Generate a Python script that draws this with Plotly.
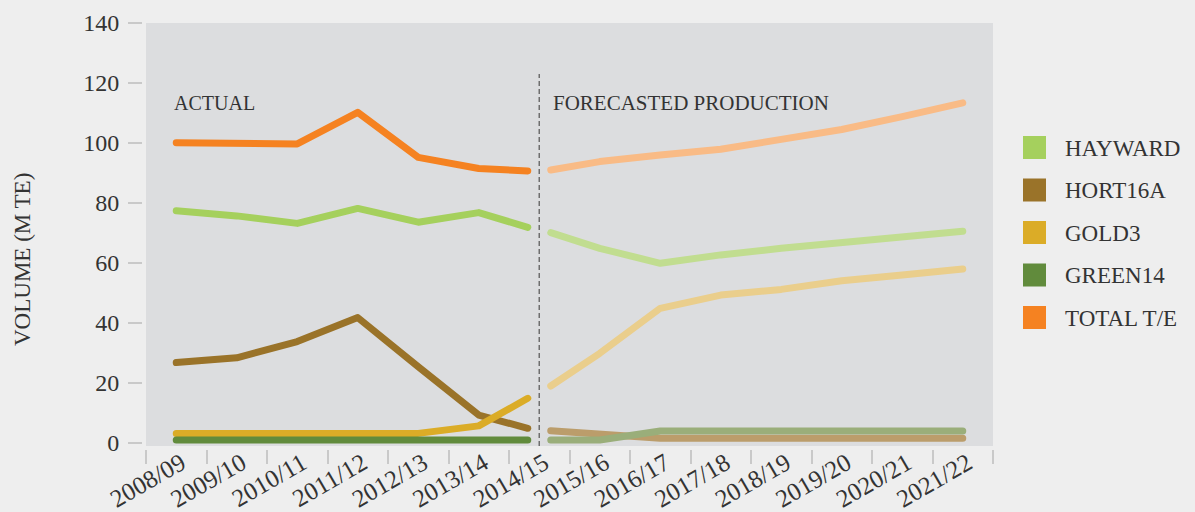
import plotly.graph_objects as go

# ---------------- data ----------------
categories = ["2008/09", "2009/10", "2010/11", "2011/12", "2012/13", "2013/14", "2014/15",
              "2015/16", "2016/17", "2017/18", "2018/19", "2019/20", "2020/21", "2021/22"]

series_names = ["HAYWARD", "HORT16A", "GOLD3", "GREEN14", "TOTAL T/E"]

# actual: 2008/09 .. 2014/15
hayward_actual = [77.4, 75.7, 73.2, 78.2, 73.6, 76.8, 71.9]
hort16a_actual = [26.8, 28.4, 33.8, 41.8, 25.4, 9.3, 4.9]
gold3_actual = [3.2, 3.2, 3.2, 3.2, 3.2, 5.7, 14.9]
green14_actual = [1.0, 1.0, 1.0, 1.0, 1.0, 1.0, 1.0]
total_actual = [100.1, 100.0, 99.7, 110.2, 95.2, 91.5, 90.7]

# forecast: 2014/15 .. 2021/22
hayward_forecast = [70.1, 64.9, 59.9, 62.7, 64.9, 66.8, 68.8, 70.6]
hort16a_forecast = [4.1, 2.9, 1.6, 1.6, 1.6, 1.6, 1.6, 1.6]
gold3_forecast = [19.0, 29.9, 44.9, 49.3, 51.2, 54.1, 56.0, 58.0]
green14_forecast = [1.0, 1.0, 4.0, 4.0, 4.0, 4.0, 4.0, 4.0]
total_forecast = [91.0, 93.8, 96.0, 97.9, 101.2, 104.5, 108.8, 113.4]

y_ticks = [0, 20, 40, 60, 80, 100, 120, 140]

# ---------------- styles ----------------
actual_colors = ["#a5d05d", "#9a7329", "#dbac27", "#618b3c", "#f58221"]
forecast_colors = ["#c1dd90", "#bb9d6b", "#eace8c", "#9aae7a", "#f9bb86"]
LINE_W = 7
GAP = 0.19          # visual split between actual and forecast at 2014/15
SPLIT = 6           # index of 2014/15
FONT = "Liberation Serif"
TXT = "#333333"
TICKC = "#c9c9c9"

W, H = 1195, 512
ML, MR, MT, MB = 142, 202, 23, 63
PW, PH = W - ML - MR, H - MT - MB


def px_x(px):
    return (px - ML) / PW


def px_y(py):
    return (H - MB - py) / PH


actual_sets = [hayward_actual, hort16a_actual, gold3_actual, green14_actual, total_actual]
forecast_sets = [hayward_forecast, hort16a_forecast, gold3_forecast, green14_forecast, total_forecast]

n_act = len(hayward_actual)
x_actual = list(range(n_act - 1)) + [SPLIT - GAP]
x_forecast = [SPLIT + GAP] + list(range(SPLIT + 1, len(categories)))

fig = go.Figure()
for name, ya, yf, ca, cf in zip(series_names, actual_sets, forecast_sets, actual_colors, forecast_colors):
    fig.add_trace(go.Scatter(x=x_actual, y=ya, mode="lines", name=name,
                             line=dict(color=ca, width=LINE_W), showlegend=False,
                             hoverinfo="skip"))
    fig.add_trace(go.Scatter(x=x_forecast, y=yf, mode="lines", name=name + " forecast",
                             line=dict(color=cf, width=LINE_W), showlegend=False,
                             hoverinfo="skip"))

shapes = []
annotations = []

# divider
shapes.append(dict(type="line", xref="x", yref="paper", x0=SPLIT, x1=SPLIT,
                   y0=px_y(446), y1=px_y(74),
                   line=dict(color="#6e6e6e", width=1.5, dash="5px,3px")))

annotations.append(dict(text="ACTUAL", xref="x", yref="paper", x=-0.07, y=px_y(103),
                        xanchor="left", yanchor="middle", showarrow=False,
                        font=dict(family=FONT, size=20, color=TXT)))
annotations.append(dict(text="FORECASTED PRODUCTION", xref="x", yref="paper", x=SPLIT + 0.19,
                        y=px_y(103), xanchor="left", yanchor="middle", showarrow=False,
                        font=dict(family=FONT, size=21, color=TXT)))

# y axis title
annotations.append(dict(text="VOLUME (M TE)", xref="paper", yref="paper", x=px_x(22), y=px_y(260),
                        xanchor="center", yanchor="middle", textangle=-90, showarrow=False,
                        font=dict(family=FONT, size=23, color=TXT)))

# manual legend
for i, (name, c) in enumerate(zip(series_names, actual_colors)):
    cy = 147.5 + i * 42.5
    shapes.append(dict(type="rect", xref="paper", yref="paper",
                       x0=px_x(1023), x1=px_x(1046), y0=px_y(cy + 11.5), y1=px_y(cy - 11.5),
                       fillcolor=c, line=dict(width=0)))
    annotations.append(dict(text=name, xref="paper", yref="paper", x=px_x(1063), y=px_y(cy + 0.5),
                            xanchor="left", yanchor="middle", showarrow=False,
                            font=dict(family=FONT, size=23, color=TXT)))

fig.update_layout(
    width=W, height=H,
    margin=dict(l=ML, r=MR, t=MT, b=MB, pad=0, autoexpand=False),
    paper_bgcolor="#eeeeee",
    plot_bgcolor="#dcdddf",
    showlegend=False,
    shapes=shapes,
    annotations=annotations,
    font=dict(family=FONT, color=TXT),
    xaxis=dict(
        domain=[4 / PW, 1], anchor="free", position=0, automargin=False,
        range=[-0.5, len(categories) - 0.5],
        tickmode="array", tickvals=list(range(len(categories))), ticktext=categories,
        ticks="", tickangle=-30, tickfont=dict(family=FONT, size=25, color=TXT),
        ticklabelstandoff=-6, ticklabelshift=5,
        minor=dict(tickmode="array", tickvals=[i - 0.5 for i in range(len(categories) + 1)],
                   ticks="outside", ticklen=14, tickwidth=2, tickcolor=TICKC, showgrid=False),
        showgrid=False, zeroline=False, showline=False,
    ),
    yaxis=dict(
        domain=[3 / PH, 1], anchor="free", position=0, automargin=False,
        range=[-1, 140], tickmode="array", tickvals=y_ticks,
        ticks="outside", ticklen=14, tickwidth=2, tickcolor=TICKC,
        tickfont=dict(family=FONT, size=24, color=TXT), ticklabelstandoff=4,
        showgrid=False, zeroline=False, showline=False,
    ),
)

post = """
document.body.style.margin='0';
document.body.style.padding='0';
document.body.style.background='#eeeeee';
document.querySelectorAll('.scatterlayer .js-line').forEach(function(p){
  p.style.strokeLinecap='round'; p.style.strokeLinejoin='round';
});
"""
fig.write_html("out.html", post_script=post, config={"displayModeBar": False})
